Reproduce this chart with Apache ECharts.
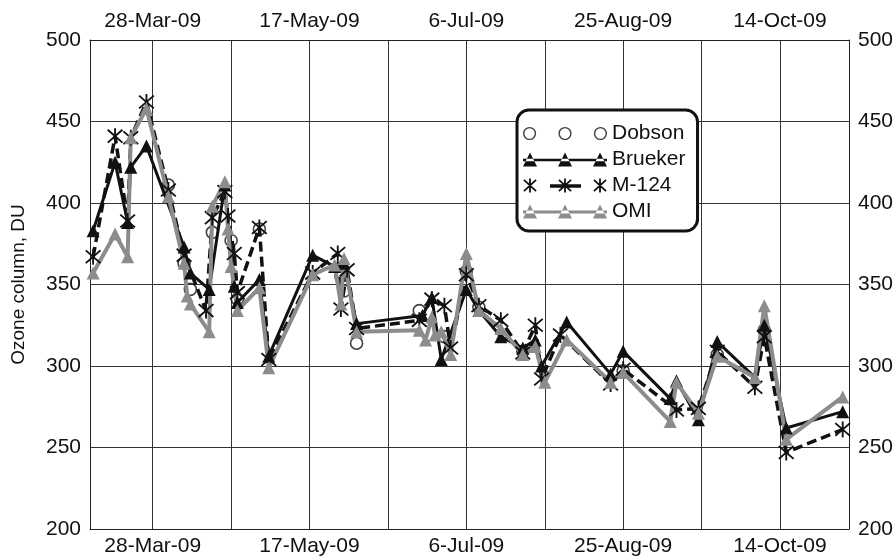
<!DOCTYPE html>
<html>
  <head>
    <meta charset="utf-8" />
    <title>Ozone column</title>
    <script src="https://cdn.jsdelivr.net/npm/echarts@6/dist/echarts.min.js"></script>
    <style>
      html, body { margin: 0; padding: 0; background: #fff; }
      #chart { width: 896px; height: 559px; }
    </style>
  </head>
  <body>
    <div id="chart"></div>
    <script type="text/javascript">
      // axis range, grid lines and labelled dates
      var xMin = "2009-03-08";
      var xMax = "2009-11-05";
      var gridDates = ["2009-03-28", "2009-04-22", "2009-05-17", "2009-06-11", "2009-07-06", "2009-07-31", "2009-08-25", "2009-09-19", "2009-10-14"];
      var labelDates = ["2009-03-28", "2009-05-17", "2009-07-06", "2009-08-25", "2009-10-14"];
      var monthNames = ["Jan", "Feb", "Mar", "Apr", "May", "Jun", "Jul", "Aug", "Sep", "Oct", "Nov", "Dec"];

      // values (DU)
      var dobson = [
        ["2009-04-02", 411], ["2009-04-07", 363], ["2009-04-09", 347], ["2009-04-16", 382],
        ["2009-04-22", 377], ["2009-04-24", 341], ["2009-05-01", 384], ["2009-05-27", 355],
        ["2009-05-28", 346], ["2009-06-01", 314], ["2009-06-21", 334], ["2009-06-29", 318],
        ["2009-07-06", 358], ["2009-07-10", 336], ["2009-07-24", 309], ["2009-08-25", 297],
        ["2009-09-24", 307], ["2009-10-09", 322]
      ];
      var brueker = [
        ["2009-03-09", 383], ["2009-03-16", 425], ["2009-03-20", 388], ["2009-03-21", 422],
        ["2009-03-26", 435], ["2009-04-07", 373], ["2009-04-09", 357], ["2009-04-15", 347],
        ["2009-04-20", 411], ["2009-04-23", 349], ["2009-04-24", 339], ["2009-05-01", 353],
        ["2009-05-04", 306], ["2009-05-18", 368], ["2009-05-25", 361], ["2009-05-28", 363],
        ["2009-06-01", 326], ["2009-06-22", 331], ["2009-06-25", 342], ["2009-06-28", 304],
        ["2009-07-06", 347], ["2009-07-10", 334], ["2009-07-17", 318], ["2009-07-24", 311],
        ["2009-07-28", 316], ["2009-07-30", 300], ["2009-08-07", 327], ["2009-08-21", 295],
        ["2009-08-25", 309], ["2009-09-09", 280], ["2009-09-11", 291], ["2009-09-18", 267],
        ["2009-09-24", 315], ["2009-10-06", 293], ["2009-10-09", 325], ["2009-10-16", 262],
        ["2009-11-03", 272]
      ];
      var m124 = [
        ["2009-03-09", 367], ["2009-03-16", 441], ["2009-03-20", 389], ["2009-03-21", 440],
        ["2009-03-26", 462], ["2009-04-02", 408], ["2009-04-07", 368], ["2009-04-14", 334],
        ["2009-04-16", 391], ["2009-04-20", 407], ["2009-04-21", 392], ["2009-04-23", 369],
        ["2009-04-24", 345], ["2009-05-01", 385], ["2009-05-04", 304], ["2009-05-18", 357],
        ["2009-05-26", 369], ["2009-05-27", 335], ["2009-05-29", 359], ["2009-06-01", 323],
        ["2009-06-21", 328], ["2009-06-25", 341], ["2009-06-29", 337], ["2009-07-01", 311],
        ["2009-07-06", 356], ["2009-07-10", 337], ["2009-07-17", 328], ["2009-07-24", 308],
        ["2009-07-28", 325], ["2009-07-30", 292], ["2009-08-05", 319], ["2009-08-21", 289],
        ["2009-08-25", 298], ["2009-09-11", 273], ["2009-09-18", 274], ["2009-09-24", 309],
        ["2009-10-06", 287], ["2009-10-09", 318], ["2009-10-16", 247], ["2009-11-03", 261]
      ];
      var omi = [
        ["2009-03-09", 357], ["2009-03-16", 381], ["2009-03-20", 367], ["2009-03-21", 440],
        ["2009-03-26", 458], ["2009-04-02", 404], ["2009-04-07", 363], ["2009-04-08", 343],
        ["2009-04-09", 338], ["2009-04-15", 321], ["2009-04-16", 398], ["2009-04-20", 413],
        ["2009-04-21", 384], ["2009-04-22", 361], ["2009-04-24", 334], ["2009-05-01", 348],
        ["2009-05-04", 299], ["2009-05-18", 356], ["2009-05-25", 362], ["2009-05-27", 338],
        ["2009-05-28", 366], ["2009-06-01", 321], ["2009-06-21", 322], ["2009-06-23", 316],
        ["2009-06-25", 330], ["2009-06-26", 319], ["2009-06-28", 321], ["2009-07-01", 307],
        ["2009-07-06", 369], ["2009-07-10", 334], ["2009-07-17", 323], ["2009-07-24", 307],
        ["2009-07-28", 312], ["2009-07-31", 290], ["2009-08-07", 316], ["2009-08-21", 290],
        ["2009-08-25", 296], ["2009-09-09", 266], ["2009-09-11", 290], ["2009-09-18", 271],
        ["2009-09-24", 306], ["2009-10-06", 293], ["2009-10-09", 337], ["2009-10-16", 255],
        ["2009-11-03", 281]
      ];

      var font = "'Liberation Sans', Arial, Helvetica, sans-serif";

      // ---- little path builders for markers and legend icons ----
      function bar(x1, y1, x2, y2, t) {
        var dx = x2 - x1, dy = y2 - y1, len = Math.sqrt(dx * dx + dy * dy);
        var nx = (-dy / len) * t, ny = (dx / len) * t;
        return "M" + (x1 + nx) + " " + (y1 + ny) + "L" + (x2 + nx) + " " + (y2 + ny) +
          "L" + (x2 - nx) + " " + (y2 - ny) + "L" + (x1 - nx) + " " + (y1 - ny) + "Z";
      }
      function star(cx, cy, r, t) {
        var a = r * 0.87, b = r * 0.8;
        return bar(cx, cy - r, cx, cy + r, t) + bar(cx - a, cy - b, cx + a, cy + b, t) + bar(cx + a, cy - b, cx - a, cy + b, t);
      }
      function tri(cx, cy, s) {
        return "M" + (cx - s / 2) + " " + (cy + s / 2) + "L" + cx + " " + (cy - s / 2) + "L" + (cx + s / 2) + " " + (cy + s / 2) + "Z";
      }
      function ring(cx, cy, r, t) {
        var ri = r - t;
        return "M" + (cx - r) + " " + cy + "A" + r + " " + r + " 0 1 0 " + (cx + r) + " " + cy +
          "A" + r + " " + r + " 0 1 0 " + (cx - r) + " " + cy + "Z" +
          "M" + (cx - ri) + " " + cy + "A" + ri + " " + ri + " 0 1 1 " + (cx + ri) + " " + cy +
          "A" + ri + " " + ri + " 0 1 1 " + (cx - ri) + " " + cy + "Z";
      }
      var starPath = "path://" + star(10, 10, 10, 1.1);
      var iconXs = [7, 42, 77];
      var iconDobson = "path://" + iconXs.map(function (x) { return ring(x, 7, 6.5, 1.4); }).join("");
      var iconBrueker = "path://" + bar(0, 7.5, 84, 7.5, 1.3) + iconXs.map(function (x) { return tri(x, 7, 14); }).join("");
      var iconM124 = "path://" + bar(27, 7.5, 58, 7.5, 1.7) + iconXs.map(function (x) { return star(x, 7, 7, 0.9); }).join("");
      var iconOmi = "path://" + bar(0, 7.5, 84, 7.5, 1.4) + iconXs.map(function (x) { return tri(x, 7, 14); }).join("");

      // dates as UTC timestamps on a plain value axis
      function toTime(s) {
        var p = s.split("-");
        return Date.UTC(+p[0], +p[1] - 1, +p[2]);
      }
      function fmtDate(v) {
        var d = new Date(v);
        return d.getUTCDate() + "-" + monthNames[d.getUTCMonth()] + "-" + String(d.getUTCFullYear()).slice(2);
      }
      function toPoints(arr) {
        return arr.map(function (p) { return [toTime(p[0]), p[1]]; });
      }

      function makeXAxis(pos, margin) {
        return {
          type: "value",
          position: pos,
          min: toTime(xMin),
          max: toTime(xMax),
          axisLine: { show: true, onZero: false, lineStyle: { color: "#222", width: 1 } },
          axisTick: { show: false, customValues: gridDates.map(toTime) },
          axisLabel: {
            customValues: labelDates.map(toTime),
            formatter: fmtDate,
            fontFamily: font,
            fontSize: 21,
            color: "#111",
            margin: margin,
          },
          splitLine: { show: pos === "bottom", lineStyle: { color: "#333", width: 1 } },
        };
      }

      function makeYAxis(pos) {
        return {
          type: "value",
          position: pos,
          min: 200,
          max: 500,
          interval: 50,
          name: pos === "left" ? "Ozone column, DU" : "",
          nameLocation: "middle",
          nameGap: 62,
          nameTextStyle: { fontFamily: font, fontSize: 19, color: "#111" },
          axisLine: { show: true, onZero: false, lineStyle: { color: "#222", width: 1 } },
          axisTick: { show: false },
          axisLabel: { fontFamily: font, fontSize: 21, color: "#111", margin: 9 },
          splitLine: { show: pos === "left", lineStyle: { color: "#333", width: 1 } },
        };
      }

      var chart = echarts.init(document.getElementById("chart"), null, { renderer: "canvas" });

      var option = {
        backgroundColor: "#fff",
        animation: false,
        grid: { left: 90, right: 47, top: 40, bottom: 30 },
        legend: {
          orient: "vertical",
          left: 517,
          top: 110,
          itemWidth: 84,
          itemHeight: 14,
          itemGap: 5,
          padding: [13, 12, 9, 6],
          borderColor: "#111",
          borderWidth: 3,
          borderRadius: 12,
          backgroundColor: "#fff",
          textStyle: { fontFamily: font, fontSize: 21, color: "#111" },
          data: [
            { name: "Dobson", icon: iconDobson, itemStyle: { color: "#111", borderWidth: 0 } },
            { name: "Brueker", icon: iconBrueker, itemStyle: { color: "#111" } },
            { name: "M-124", icon: iconM124, itemStyle: { color: "#111" } },
            { name: "OMI", icon: iconOmi, itemStyle: { color: "#8c8c8c" } },
          ],
        },
        xAxis: [makeXAxis("bottom", 7), makeXAxis("top", 8)],
        yAxis: [makeYAxis("left"), makeYAxis("right")],
        series: [
          {
            name: "Dobson",
            type: "scatter",
            data: toPoints(dobson),
            symbol: "circle",
            symbolSize: 12,
            itemStyle: { color: "rgba(255,255,255,0)", borderColor: "#111", borderWidth: 1.6 },
          },
          {
            name: "Brueker",
            type: "line",
            data: toPoints(brueker),
            symbol: "triangle",
            symbolSize: 13,
            lineStyle: { color: "#111", width: 3 },
            itemStyle: { color: "#111" },
          },
          {
            name: "M-124",
            type: "line",
            data: toPoints(m124),
            symbol: starPath,
            symbolSize: 16,
            lineStyle: { color: "#111", width: 3.5, type: [10, 5] },
            itemStyle: { color: "#111" },
          },
          {
            name: "OMI",
            type: "line",
            data: toPoints(omi),
            symbol: "triangle",
            symbolSize: 13,
            lineStyle: { color: "#8c8c8c", width: 4 },
            itemStyle: { color: "#8c8c8c" },
          },
        ],
      };
      chart.setOption(option);
    </script>
  </body>
</html>
